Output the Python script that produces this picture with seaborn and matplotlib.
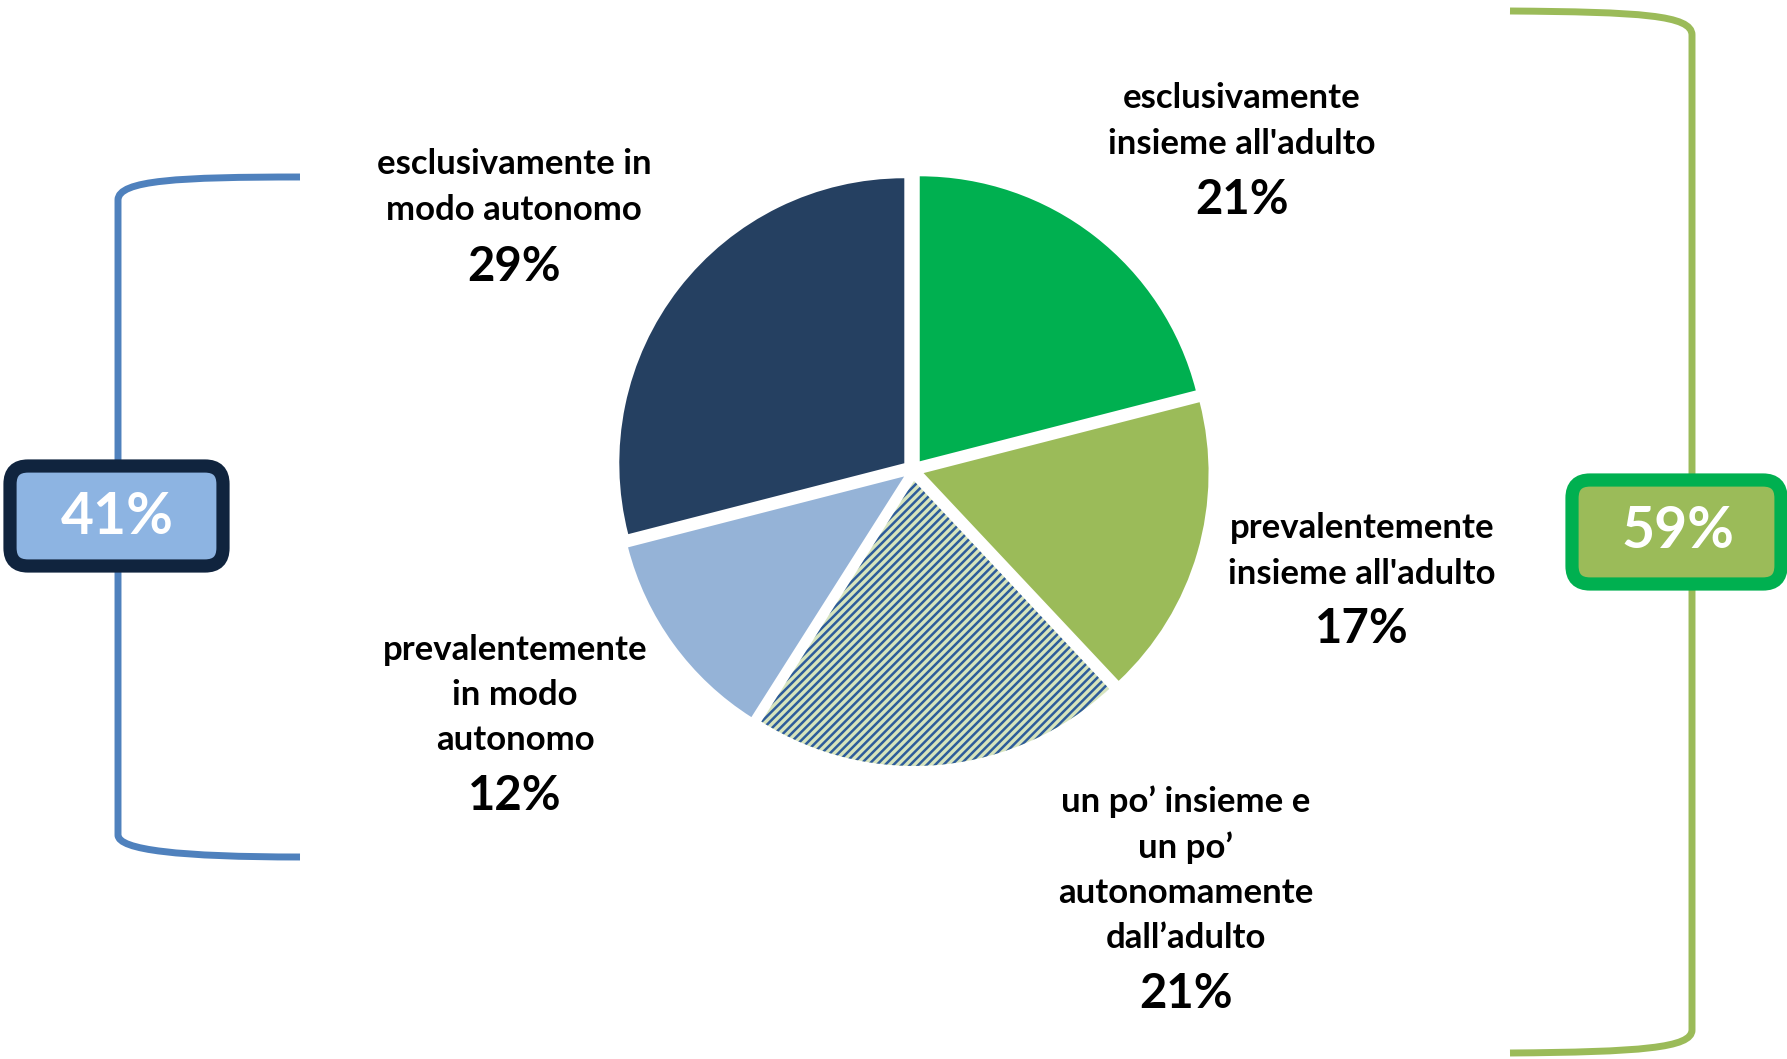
import matplotlib
matplotlib.use("Agg")
import matplotlib.pyplot as plt
import seaborn as sns
from matplotlib.path import Path
from matplotlib.patches import PathPatch, FancyBboxPatch

# ---- data ----
categories = [
    "esclusivamente\ninsieme all'adulto",
    "prevalentemente\ninsieme all'adulto",
    "un po\u2019 insieme e\nun po\u2019\nautonomamente\ndall\u2019adulto",
    "prevalentemente\nin modo\nautonomo",
    "esclusivamente in\nmodo autonomo",
]
values = [21, 17, 21, 12, 29]
pct_labels = ["21%", "17%", "21%", "12%", "29%"]
colors = ["#00B050", "#9BBB59", "#D7E4BD", "#95B3D7", "#254061"]
group_labels = ["41%", "59%"]

sns.set_theme(style="white")
plt.rcParams["font.family"] = ["Lato", "DejaVu Sans"]
plt.rcParams["hatch.linewidth"] = 1.8
plt.rcParams["hatch.color"] = "#2E5C9A"

W, H = 1787, 1059
fig = plt.figure(figsize=(W / 100, H / 100), dpi=100)
ax = fig.add_axes([0, 0, 1, 1])

def Y(y):
    return H - y

wedges, _ = ax.pie(
    values,
    colors=colors,
    startangle=90,
    counterclock=False,
    center=(913, Y(470)),
    radius=285,
    explode=[11] * 5,
    hatch=["", "", "////", "", ""],
    wedgeprops=dict(linewidth=0),
    frame=True,
)
wedges[2].set_edgecolor("#2E5C9A")
ax.set_xlim(0, W)
ax.set_ylim(0, H)
ax.set_aspect("auto")
ax.axis("off")

# labels: (x, y_center_of_text_block, y_pct)
label_pos = [(1242, 121, 200), (1362, 551, 629), (1186, 870, 994), (515, 695, 796), (514, 187, 267)]
for cat, pct, (x, yt, yp) in zip(categories, pct_labels, label_pos):
    ax.text(x, Y(yt), cat, ha="center", va="center", fontsize=25, fontweight="bold",
            color="black", linespacing=1.5)
    ax.text(x, Y(yp), pct, ha="center", va="center", fontsize=34, fontweight="bold",
            color="black")

def bracket(pts, codes, color):
    verts = [(x, Y(y)) for x, y in pts]
    ax.add_patch(PathPatch(Path(verts, codes), facecolor="none", edgecolor=color,
                           lw=5, capstyle="butt", joinstyle="round"))

C4 = Path.CURVE4
# left bracket
bracket([(300, 177), (180, 177), (118, 180), (118, 200), (118, 835),
         (118, 850), (180, 857), (300, 857)],
        [Path.MOVETO, C4, C4, C4, Path.LINETO, C4, C4, C4], "#4F81BD")
# right bracket
bracket([(1510, 11), (1640, 12), (1692, 15), (1692, 35), (1692, 1030),
         (1692, 1048), (1640, 1052), (1510, 1053)],
        [Path.MOVETO, C4, C4, C4, Path.LINETO, C4, C4, C4], "#9BBB59")

# group boxes
def group_box(x0, y0, x1, y1, fc, ec, txt, tx, ty):
    ax.add_patch(FancyBboxPatch((x0, Y(y1)), x1 - x0, y1 - y0,
                                boxstyle="round,pad=0,rounding_size=18",
                                facecolor=fc, edgecolor=ec, lw=9.5, zorder=5))
    ax.text(tx, Y(ty), txt, ha="center", va="center", fontsize=41, fontweight="bold",
            color="white", zorder=6)

group_box(10, 466, 223, 566, "#8DB4E2", "#10243E", group_labels[0], 117, 518)
group_box(1572, 480, 1781, 584, "#9BBB59", "#00B050", group_labels[1], 1678, 532)

fig.savefig("out.png", dpi=100)
